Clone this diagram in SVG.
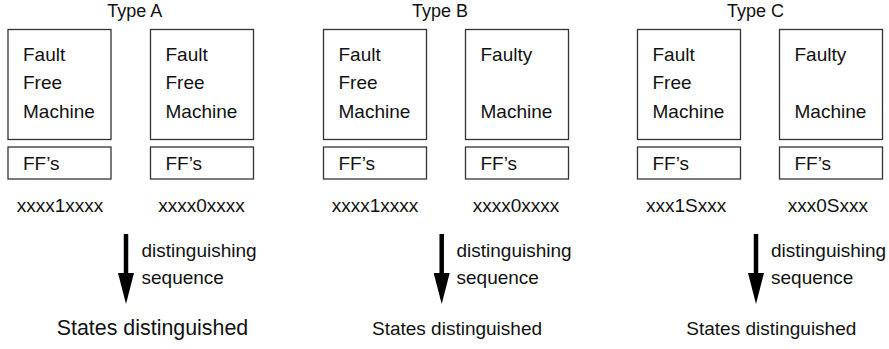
<svg xmlns="http://www.w3.org/2000/svg" width="889" height="349" viewBox="0 0 889 349">
<defs>
<style>
text{font-family:"Liberation Sans",Arial,sans-serif;font-size:19px;fill:#111}
.box{fill:#fff;stroke:#333;stroke-width:1.3}
.title{text-anchor:middle;font-size:18px}
.mid{text-anchor:middle}
.big{font-size:21.4px}
.shaft{stroke:#000;stroke-width:4.5;fill:none}
</style>
<marker id="ah" markerUnits="userSpaceOnUse" markerWidth="31" markerHeight="16" refX="0" refY="8" orient="auto" viewBox="0 0 31 16">
<path d="M0,0 L31,8 L0,16 z" fill="#000"/>
</marker>
</defs>
<rect width="889" height="349" fill="#fff"/>

<g id="titles">
<text class="title" x="134.7" y="16.5">Type A</text>
<text class="title" x="440" y="16.5">Type B</text>
<text class="title" x="755.5" y="16.5">Type C</text>
</g>

<g id="a1">
<rect class="box" x="8" y="29.5" width="103" height="110"/>
<text x="23" y="61">Fault</text><text x="23" y="89">Free</text><text x="23" y="117.5">Machine</text>
</g>
<g id="a1ff"><rect class="box" x="8" y="147" width="103" height="32"/><text x="23" y="170">FF’s</text></g>
<g id="a2">
<rect class="box" x="150.5" y="29.5" width="103" height="110"/>
<text x="165.5" y="61">Fault</text><text x="165.5" y="89">Free</text><text x="165.5" y="117.5">Machine</text>
</g>
<g id="a2ff"><rect class="box" x="150.5" y="147" width="103" height="32"/><text x="165.5" y="170">FF’s</text></g>

<g id="b1">
<rect class="box" x="323.5" y="29.5" width="103" height="110"/>
<text x="338.5" y="61">Fault</text><text x="338.5" y="89">Free</text><text x="338.5" y="117.5">Machine</text>
</g>
<g id="b1ff"><rect class="box" x="323.5" y="147" width="103" height="32"/><text x="338.5" y="170">FF’s</text></g>
<g id="b2">
<rect class="box" x="465.5" y="29.5" width="103" height="110"/>
<text x="480.5" y="61">Faulty</text><text x="480.5" y="117.5">Machine</text>
</g>
<g id="b2ff"><rect class="box" x="465.5" y="147" width="103" height="32"/><text x="480.5" y="170">FF’s</text></g>

<g id="c1">
<rect class="box" x="637.5" y="29.5" width="103" height="110"/>
<text x="652.5" y="61">Fault</text><text x="652.5" y="89">Free</text><text x="652.5" y="117.5">Machine</text>
</g>
<g id="c1ff"><rect class="box" x="637.5" y="147" width="103" height="32"/><text x="652.5" y="170">FF’s</text></g>
<g id="c2">
<rect class="box" x="779.5" y="29.5" width="103" height="110"/>
<text x="794.5" y="61">Faulty</text><text x="794.5" y="117.5">Machine</text>
</g>
<g id="c2ff"><rect class="box" x="779.5" y="147" width="103" height="32"/><text x="794.5" y="170">FF’s</text></g>

<g id="states">
<text x="16.7" y="212">xxxx1xxxx</text>
<text x="158.3" y="212">xxxx0xxxx</text>
<text x="331.7" y="212">xxxx1xxxx</text>
<text x="472.7" y="212">xxxx0xxxx</text>
<text x="646" y="212">xxx1Sxxx</text>
<text x="787.7" y="212">xxx0Sxxx</text>
</g>

<g id="connectors">
<path class="shaft" d="M126,234 V273" marker-end="url(#ah)"/>
<path class="shaft" d="M441.7,234 V273" marker-end="url(#ah)"/>
<path class="shaft" d="M756,234 V273" marker-end="url(#ah)"/>
</g>

<g id="labels">
<text x="141.5" y="257">distinguishing</text><text x="141.5" y="284">sequence</text>
<text x="456.5" y="257">distinguishing</text><text x="456.5" y="284">sequence</text>
<text x="771" y="257">distinguishing</text><text x="771" y="284">sequence</text>
</g>

<g id="results">
<text class="mid big" x="152.5" y="335">States distinguished</text>
<text class="mid" x="457" y="335">States distinguished</text>
<text class="mid" x="771.3" y="335">States distinguished</text>
</g>
</svg>
